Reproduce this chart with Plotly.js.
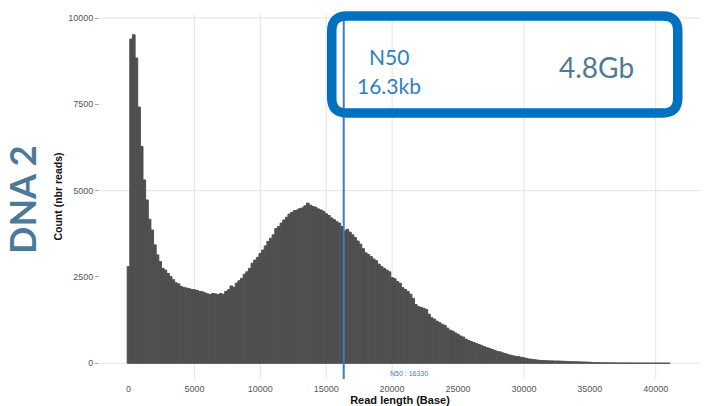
<!DOCTYPE html>
<html>
<head>
<meta charset="utf-8">
<script src="https://cdn.plot.ly/plotly-3.0.1.min.js"></script>
<style>
html,body{margin:0;padding:0;background:#fff;}
#chart{width:708px;height:406px;}
</style>
</head>
<body>
<div id="chart"></div>
<script>
// ---- data ----
const binWidth = 200; // bases per histogram bin (bins centred on multiples of 200)
const binCounts = [
  2800, 9390, 9515, 8840, 7420, 6280, 5310, 4730, 4170, 3860,
  3430, 3140, 2945, 2750, 2700, 2600, 2510, 2420, 2330, 2300,
  2220, 2200, 2180, 2160, 2140, 2130, 2110, 2080, 2070, 2040,
  2010, 1990, 2020, 2010, 1990, 2020, 2000, 2080, 2130, 2240,
  2200, 2320, 2390, 2460, 2580, 2650, 2750, 2900, 2990, 3070,
  3180, 3280, 3400, 3530, 3620, 3720, 3900, 3960, 4060, 4150,
  4230, 4320, 4370, 4420, 4440, 4480, 4500, 4560, 4640, 4580,
  4540, 4520, 4470, 4440, 4400, 4330, 4280, 4210, 4160, 4100,
  4060, 3960, 3830, 3880, 3800, 3720, 3640, 3540, 3450, 3320,
  3200, 3150, 3090, 3020, 2970, 2870, 2800, 2750, 2700, 2650,
  2480, 2450, 2370, 2320, 2190, 2140, 2080, 2000, 1880, 1700,
  1640, 1620, 1590, 1560, 1420, 1320, 1280, 1220, 1180, 1130,
  1100, 1020, 960, 930, 880, 840, 790, 760, 700, 660,
  630, 600, 570, 540, 510, 480, 450, 430, 400, 370,
  340, 330, 300, 280, 250, 235, 215, 200, 190, 175,
  160, 140, 125, 115, 105, 95, 85, 78, 75, 72,
  70, 68, 65, 66, 62, 58, 55, 48, 45, 44,
  42, 40, 38, 36, 34, 32, 20, 18, 16, 15,
  14, 13, 12, 12, 11, 10, 10, 9, 9, 8,
  8, 8, 7, 7, 7, 6, 6, 6, 5, 5,
  5, 5, 4, 4, 4, 4
];
const binCenters = binCounts.map((_, i) => i * binWidth);

const n50Value = 16330;
const n50Label = "N50 : 16330";
const statN50Title = "N50";
const statN50Text = "16.3kb";
const statYield = "4.8Gb";
const sampleLabel = "DNA 2";

const xTickVals = [0, 5000, 10000, 15000, 20000, 25000, 30000, 35000, 40000];
const xTickText = ["0", "5000", "10000", "15000", "20000", "25000", "30000", "35000", "40000"];
const yTickVals = [0, 2500, 5000, 7500, 10000];
const yTickText = ["0", "2500", "5000", "7500", "10000"];
const xGridVals = [5000, 10000, 15000, 20000, 30000, 40000];
const yGridVals = [0, 5000, 10000];

// ---- layout helpers (pixel -> paper) ----
const M = {l: 100, r: 8, t: 14, b: 27};
const W = 708, H = 406;
const pw = W - M.l - M.r, ph = H - M.t - M.b;
const px = x => (x - M.l) / pw;
const py = y => (H - M.b - y) / ph;

const gridColor = "#e3e3e3";
const shapes = [];
xGridVals.forEach(v => shapes.push({
  type: "line", layer: "below", xref: "x", yref: "paper",
  x0: v, x1: v, y0: 0, y1: 1, line: {color: gridColor, width: 1}
}));
yGridVals.forEach(v => shapes.push({
  type: "line", layer: "below", xref: "paper", yref: "y",
  x0: 0, x1: 1, y0: v, y1: v, line: {color: gridColor, width: 1}
}));
// N50 vertical line
shapes.push({
  type: "line", layer: "above", xref: "x", yref: "paper",
  x0: n50Value, x1: n50Value, y0: 0, y1: 1,
  line: {color: "#3b7ec2", width: 2}
});
// rounded highlight box (pixel sized, centred on anchor)
const bw = 173, bh = 48.5, br = 15;
const boxPath =
  `M ${-bw + br},${-bh} L ${bw - br},${-bh} Q ${bw},${-bh} ${bw},${-bh + br} ` +
  `L ${bw},${bh - br} Q ${bw},${bh} ${bw - br},${bh} L ${-bw + br},${bh} ` +
  `Q ${-bw},${bh} ${-bw},${bh - br} L ${-bw},${-bh + br} Q ${-bw},${-bh} ${-bw + br},${-bh} Z`;
shapes.push({
  type: "path", layer: "above", xref: "paper", yref: "paper",
  xsizemode: "pixel", ysizemode: "pixel",
  xanchor: px(504.75), yanchor: py(64.5),
  path: boxPath,
  line: {color: "#0070c0", width: 9.5},
  fillcolor: "rgba(0,0,0,0)"
});

const annotations = [
  {text: statN50Title, xref: "paper", yref: "paper", x: px(389), y: py(57),
   showarrow: false, xanchor: "center", yanchor: "middle",
   font: {family: "Lato, 'Open Sans', sans-serif", size: 21, color: "#2e80c4"}},
  {text: statN50Text, xref: "paper", yref: "paper", x: px(389), y: py(86),
   showarrow: false, xanchor: "center", yanchor: "middle",
   font: {family: "Lato, 'Open Sans', sans-serif", size: 21, color: "#2e80c4"}},
  {text: statYield, xref: "paper", yref: "paper", x: px(596), y: py(67),
   showarrow: false, xanchor: "center", yanchor: "middle",
   font: {family: "Lato, 'Open Sans', sans-serif", size: 28, color: "#4f7a93"}},
  {text: "<b>" + sampleLabel + "</b>", xref: "paper", yref: "paper", x: px(22), y: py(200),
   showarrow: false, xanchor: "center", yanchor: "middle", textangle: -90,
   font: {family: "Lato, 'Open Sans', sans-serif", size: 36, color: "#4b7a98"}},
  {text: n50Label, xref: "paper", yref: "paper", x: px(409), y: py(373),
   showarrow: false, xanchor: "center", yanchor: "middle",
   font: {family: "'Liberation Sans', Arial, sans-serif", size: 7, color: "#3b7ec2"}}
];

const trace = {
  type: "bar",
  x: binCenters,
  y: binCounts,
  width: binWidth,
  marker: {color: "#4f4f4f", line: {color: "#4f4f4f", width: 1}},
  hoverinfo: "x+y"
};

const layout = {
  width: W, height: H,
  margin: M,
  paper_bgcolor: "#ffffff",
  plot_bgcolor: "#ffffff",
  showlegend: false,
  bargap: 0,
  font: {family: "'Liberation Sans', Arial, sans-serif", color: "#555555"},
  xaxis: {
    range: [-2162, 43361],
    tickmode: "array", tickvals: xTickVals, ticktext: xTickText,
    showgrid: false, zeroline: false, showline: false,
    ticks: "", ticklabelstandoff: 3,
    tickfont: {family: "'Liberation Sans', Arial, sans-serif", size: 9, color: "#555555"},
    title: {text: "<b>Read length (Base)</b>", standoff: 0,
            font: {family: "'Liberation Sans', Arial, sans-serif", size: 11, color: "#111111"}}
  },
  yaxis: {
    range: [-455, 10116],
    tickmode: "array", tickvals: yTickVals, ticktext: yTickText,
    showgrid: false, zeroline: false, showline: false,
    ticks: "outside", ticklen: 4, tickcolor: "#aaaaaa", tickwidth: 1,
    tickfont: {family: "'Liberation Sans', Arial, sans-serif", size: 9, color: "#555555"},
    title: {text: "<b>Count (nbr reads)</b>", standoff: 3,
            font: {family: "'Liberation Sans', Arial, sans-serif", size: 10.5, color: "#111111"}}
  },
  shapes: shapes,
  annotations: annotations
};

Plotly.newPlot("chart", [trace], layout, {displayModeBar: false, staticPlot: true});
</script>
</body>
</html>
